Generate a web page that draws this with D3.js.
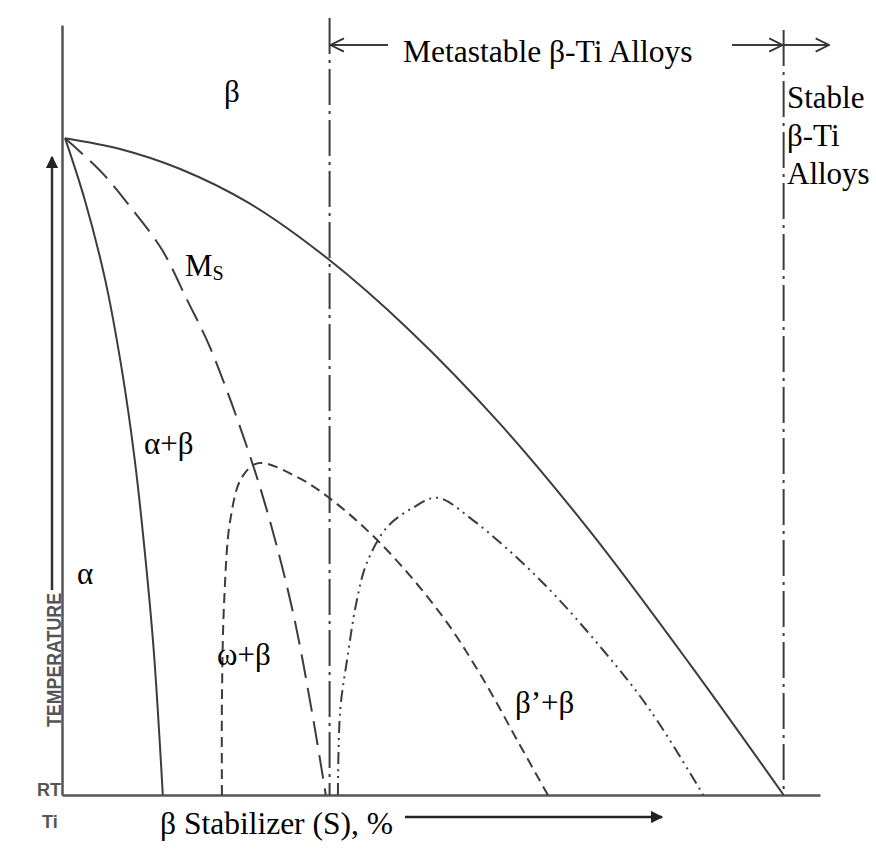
<!DOCTYPE html>
<html>
<head>
<meta charset="utf-8">
<script src="https://cdn.jsdelivr.net/npm/d3@7"></script>
<style>
  body { margin: 0; background: #fff; }
  svg { display: block; }
  .curve { fill: none; stroke: #3c3c3c; stroke-width: 2; }
  .lbl { font-family: 'Liberation Serif', 'Times New Roman', serif; fill: #000; }
  .axlbl { font-family: 'Liberation Sans Narrow', 'Liberation Sans', Arial, sans-serif; font-weight: bold; fill: #555; }
</style>
</head>
<body>
<script>
// x: beta stabilizer content (arbitrary %), y: temperature (arbitrary units)
var transus_x = [0.4, 7.65, 15.6, 24.8, 35.0, 45.9, 57.8, 69.7, 82.9, 95.2];
var transus_y = [85.3, 83.9, 81.3, 76.8, 69.7, 60.3, 48.2, 34.2, 16.9, 0];

var alpha_x = [0.4, 3.0, 5.7, 7.9, 9.6, 10.9, 12.1, 13.3];
var alpha_y = [85.3, 77.3, 66.9, 55.2, 43.5, 31.8, 18.8, 0];

var ms_x = [0.4, 5.3, 9.0, 13.2, 16.5, 19.5, 24.4, 27.4, 30.5, 33.1, 34.8];
var ms_y = [85.3, 80.8, 76.4, 70.8, 64.3, 58.2, 45.2, 35.7, 23.6, 10.1, 0];

var omega_x = [21.1, 21.1, 21.4, 22.2, 23.7, 25.9, 31.0, 35.1, 42.0, 49.9, 55.1, 60.4, 64.1];
var omega_y = [0, 12.3, 25.3, 35.7, 41.2, 43.1, 41.3, 38.7, 32.7, 23.6, 15.8, 6.5, 0];

var bprime_x = [36.4, 36.7, 37.6, 38.9, 40.2, 42.9, 46.3, 49.5, 54.2, 63.1, 71.4, 77.6, 84.6];
var bprime_y = [0, 11.0, 17.5, 25.3, 30.1, 34.8, 37.3, 38.6, 35.7, 27.9, 18.8, 11.0, 0];

// composition limits: metastable start, stable start
var limits = [35.3, 95.2];

var region_labels = ["\u03b2", "\u03b1+\u03b2", "\u03b1", "\u03c9+\u03b2", "\u03b2\u2019+\u03b2"];
var stable_lines = ["Stable", "\u03b2-Ti", "Alloys"];

var W = 876, H = 850;
var svg = d3.select("body").append("svg").attr("width", W).attr("height", H);

var x = d3.scaleLinear().domain([0, 100]).range([62, 820]);
var y = d3.scaleLinear().domain([0, 100]).range([795, 25]);

// serif labels (kept at 31px and up, smaller sizes fall back to a sans face here)
function serif(px, py, size, str) {
	return svg.append("text")
		.attr("class", "lbl")
		.attr("x", px).attr("y", py)
		.attr("font-size", size)
		.text(str);
}

// arrow markers
var defs = svg.append("defs");
defs.append("marker")
	.attr("id", "solid")
	.attr("viewBox", "0 0 10 10")
	.attr("refX", 9).attr("refY", 5)
	.attr("markerWidth", 5).attr("markerHeight", 5)
	.attr("markerUnits", "strokeWidth")
	.attr("orient", "auto")
	.append("path").attr("d", "M0,0 L10,5 L0,10 z").attr("fill", "#222");
defs.append("marker")
	.attr("id", "open")
	.attr("viewBox", "0 0 12 12")
	.attr("refX", 11).attr("refY", 6)
	.attr("markerWidth", 8).attr("markerHeight", 8)
	.attr("markerUnits", "strokeWidth")
	.attr("orient", "auto")
	.append("path").attr("d", "M1,1 L11,6 L1,11").attr("fill", "none")
	.attr("stroke", "#333").attr("stroke-width", 1.4);

// axes, no ticks
var xAxis = d3.axisBottom(x).tickValues([]).tickSizeOuter(0);
var yAxis = d3.axisLeft(y).tickValues([]).tickSizeOuter(0);
svg.append("g").attr("transform", "translate(0," + y(0) + ")").call(xAxis)
	.select(".domain").attr("stroke", "#555").attr("stroke-width", 2.5);
svg.append("g").attr("transform", "translate(" + x(0) + ",0)").call(yAxis)
	.select(".domain").attr("stroke", "#555").attr("stroke-width", 2.5);

var line = d3.line().curve(d3.curveCatmullRom.alpha(0.5));
function draw(xs, ys, dash) {
	var pts = xs.map(function(v, i) { return [x(v), y(ys[i])]; });
	svg.append("path")
		.attr("class", "curve")
		.attr("d", line(pts))
		.attr("stroke-dasharray", dash);
}

draw(transus_x, transus_y, null);
draw(alpha_x, alpha_y, null);
draw(ms_x, ms_y, "24,10");
draw(omega_x, omega_y, "10,6");
draw(bprime_x, bprime_y, "12,5,2,5,2,5");

// composition limit lines
svg.selectAll("line.limit")
	.data(limits)
	.enter().append("line")
	.attr("class", "curve")
	.attr("x1", function(d) { return x(d); })
	.attr("x2", function(d) { return x(d); })
	.attr("y1", function(d, i) { return i == 0 ? 18 : 30; })
	.attr("y2", y(0))
	.attr("stroke-dasharray", "36,6,3,6");

// top arrows
var ya = 45;
svg.append("line").attr("class", "curve")
	.attr("x1", 388).attr("y1", ya).attr("x2", x(limits[0]) + 1).attr("y2", ya)
	.attr("marker-end", "url(#open)");
svg.append("line").attr("class", "curve")
	.attr("x1", 732).attr("y1", ya).attr("x2", x(limits[1]) - 1).attr("y2", ya)
	.attr("marker-end", "url(#open)");
svg.append("line").attr("class", "curve")
	.attr("x1", x(limits[1])).attr("y1", ya).attr("x2", 829).attr("y2", ya)
	.attr("marker-end", "url(#open)");
serif(403, 62, 31.5, "Metastable \u03b2-Ti Alloys");

var sy = [108, 146, 184];
stable_lines.forEach(function(s, i) { serif(787, sy[i], 31, s); });

// region labels
var lpos = [[224, 102], [144, 454], [77, 584], [217, 665], [515, 713]];
region_labels.forEach(function(s, i) { serif(lpos[i][0], lpos[i][1], 31, s); });

var ms = serif(185, 276, 31, "M");
ms.append("tspan").attr("font-size", 20).attr("dy", 4).text("S");

// axis labels
serif(160, 834, 31.5, "\u03b2 Stabilizer (S), %");
svg.append("line")
	.attr("x1", 405).attr("y1", 817).attr("x2", 662).attr("y2", 817)
	.attr("stroke", "#222").attr("stroke-width", 2.5)
	.attr("marker-end", "url(#solid)");

svg.append("line")
	.attr("x1", 52).attr("y1", 590).attr("x2", 52).attr("y2", 157)
	.attr("stroke", "#333").attr("stroke-width", 2.5)
	.attr("marker-end", "url(#solid)");

svg.append("text").attr("class", "axlbl")
	.attr("transform", "translate(61,727) rotate(-90)")
	.attr("font-size", 20)
	.attr("textLength", 134).attr("lengthAdjust", "spacingAndGlyphs")
	.text("TEMPERATURE");
svg.append("text").attr("class", "axlbl")
	.attr("x", 61).attr("y", 796).attr("text-anchor", "end").attr("font-size", 18)
	.text("RT");
svg.append("text").attr("class", "axlbl")
	.attr("x", 42).attr("y", 828).attr("font-size", 18)
	.text("Ti");
</script>
</body>
</html>
